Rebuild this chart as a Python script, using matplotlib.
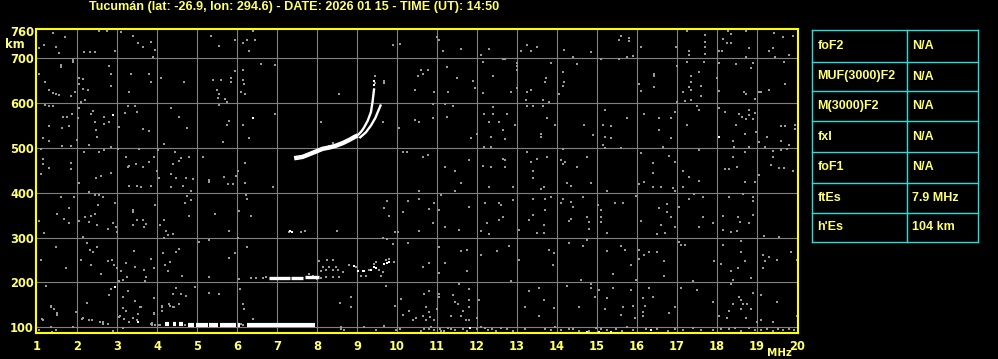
import matplotlib
matplotlib.use("Agg")
import matplotlib.pyplot as plt

# ---------------- data ----------------
title = "Tucumán (lat: -26.9, lon: 294.6) - DATE: 2026 01 15 - TIME (UT): 14:50"
freq_ticks = list(range(1, 21))
height_ticks = [100, 200, 300, 400, 500, 600, 700, 760]
grid_freqs = list(range(2, 20))
grid_heights = [100, 200, 300, 400, 500, 600, 700]

param_names = ["foF2", "MUF(3000)F2", "M(3000)F2", "fxI", "foF1", "ftEs", "h'Es"]
param_values = ["N/A", "N/A", "N/A", "N/A", "N/A", "7.9 MHz", "104 km"]

# F-layer trace (common lower part, ordinary and extraordinary branches)
f_common_freq = [7.43, 7.64, 7.81, 7.975, 8.14, 8.31, 8.475, 8.65, 8.81, 8.93, 9.02]
f_common_h = [477, 480, 486, 492, 498, 501, 505, 511, 518, 524, 528]
f_o_freq = [9.02, 9.12, 9.18, 9.27, 9.35, 9.39, 9.41, 9.43]
f_o_h = [528, 538, 546, 561, 580, 603, 618, 633]
f_x_freq = [9.06, 9.225, 9.35, 9.46, 9.52, 9.6]
f_x_h = [522, 535, 550, 567, 580, 597]

# E-layer trace segments (start freq, end freq, height)
e_seg_start = [6.81, 7.36, 7.70]
e_seg_end = [7.33, 7.66, 8.05]
e_seg_h = [210, 210, 211]

# Sporadic E trace segments
es_seg_start = [4.20, 4.40, 4.55, 4.77, 4.98, 5.31, 5.575, 6.02, 6.24]
es_seg_end = [4.30, 4.47, 4.65, 4.93, 5.27, 5.52, 5.975, 6.075, 7.96]
es_seg_h = [108, 108, 107, 104, 104, 104, 104, 104, 104]

# isolated white echoes
white_points = [
    (2.89, 573), (6.39, 567), (18.04, 525), (2.95, 189), (7.33, 314), (7.38, 313),
    (8.93, 236), (9.02, 225), (9.18, 225), (9.35, 227), (9.43, 235), (9.68, 241),
    (9.81, 245), (9.475, 232), (9.75, 243), (9.16, 226), (3.53, 112),
    (11.825, 99), (14.74, 89), (15.06, 89), (15.35, 89), (16.35, 94),
    (9.43, 640), (9.42, 650),
]

# grey noise speckles (frequency MHz, virtual height km)
noise_points = [
    # upper left
    (1.39, 757), (1.70, 747), (1.04, 722), (1.18, 730), (1.475, 726), (1.54, 711),
    (1.89, 696), (1.89, 691), (1.60, 680), (1.60, 684), (2.18, 713), (2.33, 713), (2.45, 713),
    (2.54, 762), (2.75, 762), (2.95, 717), (3.10, 758), (3.39, 749), (3.64, 726),
    (3.53, 735), (3.85, 737), (3.95, 719), (3.91, 704), (2.81, 683), (2.85, 666),
    (3.35, 666), (3.81, 666), (3.85, 648), (4.10, 655), (4.68, 648), (5.35, 749),
    (5.54, 728), (5.96, 740), (6.14, 735), (6.24, 740), (6.45, 740), (6.29, 717),
    (6.41, 762), (6.60, 687), (6.95, 685), (5.95, 672), (6.14, 674), (5.39, 651),
    (5.60, 651), (5.85, 655), (5.85, 648), (6.14, 651), (6.18, 642), (5.49, 629),
    (5.54, 621), (5.52, 612), (5.70, 609), (5.74, 603), (5.54, 595), (6.10, 625),
    (6.21, 620), (1.06, 666), (1.21, 648), (1.31, 629), (1.39, 623), (1.475, 621),
    (1.56, 618), (1.85, 615), (1.96, 625), (2.04, 655), (2.14, 653), (2.04, 642),
    (2.14, 632), (2.27, 629), (2.21, 606), (2.10, 600), (2.85, 638), (3.29, 625),
    (8.54, 621), (9.45, 660), (9.68, 650), (9.68, 644), (9.45, 644), (9.89, 730),
    (10.08, 732), (10.46, 629), (10.04, 544), (9.64, 558), (8.10, 558), (10.45, 563),
    (10.14, 490), (10.25, 492), (1.21, 595), (1.31, 593), (1.39, 593), (1.64, 570),
    (1.74, 570), (1.875, 575), (2.02, 567), (2.06, 588), (2.10, 603), (2.39, 582),
    (2.35, 576), (2.68, 570), (2.81, 558), (2.46, 558), (2.475, 539), (2.50, 525),
    (2.68, 554), (3.21, 578), (3.27, 593), (3.45, 593), (3.49, 580), (3.06, 546),
    (3.64, 543), (3.79, 537), (4.35, 589), (4.54, 570), (4.74, 544), (5.79, 561),
    (5.74, 552), (6.14, 552), (6.95, 575), (6.29, 522), (5.64, 513), (1.31, 548),
    (1.81, 548), (1.625, 545), (1.14, 522), (1.31, 516), (1.10, 498), (1.625, 505),
    (1.85, 505), (2.0, 518), (2.29, 507), (2.18, 490), (2.54, 490), (2.68, 495),
    (2.85, 501), (3.02, 498), (3.56, 498), (3.93, 480), (4.03, 495), (4.18, 509),
    (4.46, 490), (4.60, 477), (4.54, 471), (4.79, 480), (5.14, 479), (6.20, 466),
    (1.14, 475), (1.16, 464), (1.31, 455), (1.85, 466), (1.85, 453), (1.10, 442),
    (2.475, 434), (2.60, 438), (2.85, 445), (3.225, 479), (3.31, 460), (3.27, 457),
    (3.475, 464), (3.64, 457), (3.81, 468), (3.99, 449), (4.06, 434), (4.39, 464),
    (4.35, 442), (4.475, 434), (4.725, 434), (4.89, 430), (5.31, 428), (5.68, 436),
    (6.02, 449), (5.975, 438), (8.3, 505), (8.4, 510), (8.6, 512),
    # upper right
    (10.99, 747), (11.04, 740), (11.14, 717), (11.60, 721), (12.10, 707), (12.29, 721),
    (12.66, 698), (12.71, 698), (12.99, 689), (12.99, 675), (12.99, 682), (13.24, 730),
    (13.35, 717), (13.49, 726), (13.10, 717), (12.14, 692), (14.18, 719), (14.39, 704),
    (14.85, 713), (15.56, 741), (15.79, 745), (15.79, 738), (15.60, 749), (15.89, 705),
    (15.74, 704), (15.54, 698), (15.10, 698), (16.10, 726), (16.975, 726), (17.24, 762),
    (17.29, 717), (17.29, 707), (17.71, 752), (17.71, 737), (17.71, 726), (17.71, 710),
    (17.68, 692), (18.06, 717), (18.27, 760), (18.35, 755), (18.35, 734), (18.16, 743),
    (18.24, 735), (18.125, 717), (18.725, 762), (18.81, 722), (18.725, 704),
    (18.89, 689), (19.31, 717), (19.39, 722), (19.43, 756), (19.46, 702), (19.64, 747),
    (19.79, 707), (19.89, 749), (19.68, 692), (18.85, 678), (18.475, 687),
    (18.04, 689), (10.60, 674), (10.64, 665), (10.77, 674), (10.52, 660),
    (11.24, 680), (11.50, 656), (11.89, 650), (11.95, 633), (11.27, 625),
    (10.93, 625), (12.41, 660), (12.85, 625), (12.99, 633), (12.14, 623),
    (13.85, 689), (13.725, 657), (13.70, 648), (13.35, 629), (13.24, 625),
    (13.225, 606), (13.64, 606), (13.79, 603), (14.14, 670), (14.18, 648),
    (14.14, 638), (14.04, 621), (14.49, 687), (16.43, 666), (16.43, 660), (16.43, 636),
    (16.04, 642), (16.10, 627), (16.99, 683), (17.14, 625), (17.24, 692),
    (17.35, 660), (17.35, 648), (17.56, 670), (17.29, 635), (17.35, 629),
    (17.60, 638), (17.60, 615), (17.21, 605), (17.35, 606), (16.99, 603),
    (18.04, 627), (17.99, 657), (18.725, 621), (18.68, 625), (18.96, 610),
    (19.04, 625), (19.10, 625), (19.29, 629), (19.71, 642), (10.89, 597),
    (11.21, 597), (11.39, 593), (10.54, 558), (10.89, 567), (11.24, 570),
    (12.18, 575), (12.41, 591), (12.54, 558), (12.29, 558), (12.66, 540),
    (12.74, 575), (12.95, 552), (12.39, 575), (11.85, 522), (11.99, 530),
    (12.35, 525), (12.70, 520), (12.18, 503), (12.35, 503), (13.24, 593),
    (13.39, 593), (13.64, 593), (13.74, 567), (13.60, 530), (13.60, 525), (13.96, 552),
    (14.68, 552), (14.89, 528), (15.20, 584), (15.14, 552), (15.35, 548),
    (15.20, 525), (15.35, 522), (15.14, 507), (15.20, 500), (15.60, 500),
    (15.74, 567), (16.18, 575), (16.54, 567), (16.85, 567), (16.96, 580),
    (16.54, 540), (16.85, 522), (17.24, 552), (17.49, 593), (17.54, 584),
    (18.06, 590), (18.21, 580), (18.54, 575), (18.625, 570), (18.725, 565),
    (18.79, 584), (18.81, 573), (18.89, 565), (18.96, 578), (18.475, 552),
    (18.71, 530), (18.39, 516), (18.43, 503), (18.975, 535), (19.04, 513),
    (19.24, 525), (19.21, 503), (19.60, 550), (19.71, 548), (19.96, 552),
    (19.94, 543), (19.60, 516), (19.79, 507), (10.64, 480), (10.77, 485),
    (11.21, 458), (11.46, 449), (11.79, 472), (12.14, 460), (12.35, 458),
    (12.66, 475), (12.71, 472), (12.71, 458), (13.24, 490), (13.49, 475),
    (13.35, 468), (13.39, 449), (13.39, 433), (13.74, 480), (14.14, 498),
    (14.10, 472), (14.16, 464), (14.21, 468), (14.49, 458), (14.74, 480),
    (16.10, 488), (16.39, 466), (16.39, 445), (16.64, 501), (16.79, 483),
    (16.96, 468), (17.14, 449), (17.29, 436), (17.54, 495), (18.39, 479),
    (18.49, 457), (18.21, 454), (18.29, 454), (18.71, 490), (18.81, 501),
    (19.06, 440), (19.39, 494), (19.41, 480), (19.60, 495), (19.74, 498),
    (19.35, 463), (19.54, 455), (19.68, 455), (19.89, 449),
    # lower left
    (2.04, 421), (2.31, 401), (3.29, 416), (3.49, 414), (3.60, 413), (3.85, 416),
    (4.35, 413), (4.64, 416), (4.85, 404), (4.74, 392), (4.85, 383), (4.71, 377),
    (5.29, 424), (5.77, 419), (5.89, 419), (6.20, 421), (6.225, 396), (6.24, 387),
    (6.89, 413), (1.60, 390), (1.93, 390), (2.46, 394), (2.56, 396), (2.64, 390),
    (2.53, 372), (2.95, 377), (3.95, 372), (1.79, 366), (1.49, 352), (1.68, 342),
    (1.81, 332), (1.04, 337), (2.04, 337), (2.21, 346), (2.35, 349), (2.46, 352),
    (2.31, 334), (2.50, 327), (2.77, 320), (2.91, 332), (2.975, 323), (3.0, 312),
    (3.39, 361), (3.39, 356), (3.49, 340), (3.64, 340), (3.725, 331), (3.68, 323), (3.39, 327),
    (4.075, 329), (4.18, 340), (4.225, 314), (4.27, 306), (4.39, 308), (4.18, 300),
    (4.79, 349), (5.45, 352), (5.79, 314), (6.04, 359), (6.35, 349), (7.60, 312),
    (7.71, 314), (7.30, 312), (8.49, 314), (9.74, 381), (9.67, 366), (9.79, 349),
    (10.14, 358), (10.02, 312), (9.96, 312), (9.64, 300), (9.74, 297), (9.91, 285),
    (10.27, 288), (10.28, 381), (1.18, 310), (1.475, 279), (1.10, 250), (1.725, 233),
    (2.14, 302), (2.24, 288), (2.325, 273), (2.41, 268), (2.50, 279), (2.10, 250),
    (2.35, 238), (2.60, 218), (2.77, 247), (2.875, 250), (2.93, 238), (3.0, 233),
    (3.10, 225), (3.16, 206), (3.24, 212), (3.04, 204), (3.225, 243), (3.43, 270),
    (3.46, 234), (3.68, 228), (3.725, 212), (3.71, 203), (3.93, 233), (3.85, 253),
    (4.14, 265), (4.21, 238), (4.27, 225), (4.325, 245), (4.475, 268), (4.54, 275),
    (4.625, 215), (5.04, 290), (5.29, 294), (5.29, 212), (5.81, 255), (5.95, 265),
    (6.04, 208), (6.25, 279), (6.03, 300), (1.225, 191), (2.85, 186), (2.81, 171),
    (3.16, 167), (3.27, 180), (3.14, 143), (3.225, 137), (3.46, 158), (3.60, 146),
    (3.52, 130), (3.29, 111), (3.06, 122), (3.18, 119), (2.77, 108), (2.64, 108),
    (2.31, 117), (2.14, 121), (1.975, 134), (1.89, 100), (1.35, 146), (1.43, 141),
    (1.49, 128), (1.125, 119), (1.06, 93), (1.35, 100), (1.475, 93), (3.93, 166),
    (3.93, 130), (3.85, 108), (4.125, 146), (4.125, 137), (4.31, 152), (4.39, 175),
    (4.475, 188), (4.60, 175), (4.43, 146), (4.54, 151), (4.725, 169), (4.96, 189),
    (5.31, 176), (5.56, 173), (6.14, 151), (6.18, 141), (6.075, 186), (6.39, 119),
    (8.575, 154), (8.85, 167), (8.85, 146), (9.725, 193), (9.96, 148), (10.10, 163),
    (10.14, 128), (10.29, 137), (10.39, 117), (9.68, 102), (9.975, 93), (8.6, 100),
    (8.6, 95), (8.68, 94), (9.18, 100), (9.475, 93),
    (1.37, 90), (1.14, 116), (1.49, 132), (1.34, 148), (1.89, 101), (2.24, 154),
    (2.12, 118), (2.37, 117), (2.575, 112), (2.66, 112), (2.89, 92), (3.16, 98),
    (3.075, 124), (3.41, 121), (3.575, 146), (3.49, 115), (3.87, 110), (3.87, 106),
    (3.925, 132), (4.075, 105), (4.12, 147), (4.325, 148), (4.41, 146),
    # E-layer surroundings
    (6.35, 210), (6.475, 210), (6.64, 210), (6.725, 213), (8.06, 247), (8.24, 250),
    (8.39, 249), (8.14, 234), (8.31, 235), (8.475, 234), (8.10, 225), (8.225, 227),
    (8.39, 227), (8.52, 228), (8.64, 223), (8.225, 212), (8.39, 212), (8.56, 212),
    (8.81, 238), (8.975, 234), (9.10, 215), (9.225, 215), (9.31, 228), (9.475, 245),
    (9.60, 215), (9.64, 223), (9.81, 253), (9.93, 245), (9.725, 249), (9.56, 227),
    (9.43, 242), (7.81, 219), (7.89, 215), (8.0, 208), (8.1, 210),
    # Es-layer surroundings
    (4.60, 104), (4.70, 104), (3.95, 104), (4.05, 106), (6.10, 108), (6.15, 104),
    # lower right
    (10.54, 404), (10.54, 387), (11.10, 394), (11.60, 421), (11.46, 404),
    (12.29, 413), (12.89, 413), (13.68, 413), (13.60, 409), (14.24, 421),
    (14.35, 416), (14.85, 421), (15.24, 404), (16.04, 420), (16.18, 424),
    (16.39, 413), (16.60, 413), (16.91, 411), (16.96, 405), (17.14, 413),
    (17.56, 426), (18.71, 424), (18.96, 424), (10.81, 364), (10.93, 377),
    (11.04, 362), (11.79, 368), (10.89, 332), (10.56, 314), (11.21, 323),
    (11.54, 317), (12.20, 377), (12.54, 377), (12.60, 372), (12.89, 384),
    (12.64, 346), (12.54, 340), (12.24, 332), (12.10, 314), (12.29, 307),
    (13.06, 317), (13.41, 387), (13.71, 387), (13.85, 390), (13.71, 362),
    (13.39, 351), (13.31, 340), (13.68, 327), (13.49, 310), (13.68, 310),
    (14.14, 387), (14.10, 377), (14.35, 379), (14.39, 368), (14.64, 390),
    (14.29, 338), (14.35, 342), (14.74, 346), (14.79, 334), (15.10, 362),
    (15.10, 346), (15.10, 334), (14.81, 320), (15.24, 310), (15.45, 377),
    (15.64, 377), (15.02, 372), (15.975, 392), (16.10, 337), (16.54, 366),
    (16.74, 374), (16.74, 357), (16.85, 346), (16.60, 327), (16.71, 310),
    (16.49, 307), (16.96, 323), (17.06, 368), (17.29, 386), (17.43, 397),
    (17.64, 390), (17.64, 346), (17.54, 323), (17.89, 332), (18.29, 390),
    (18.64, 397), (18.89, 390), (18.89, 381), (18.90, 351), (18.15, 349),
    (18.52, 345), (18.58, 334), (18.79, 332), (18.14, 316), (18.35, 312),
    (18.49, 314), (19.18, 303), (19.54, 301), (11.04, 279), (11.60, 270),
    (11.74, 273), (12.10, 260), (12.49, 270), (12.79, 282), (12.85, 203),
    (10.64, 235), (10.79, 243), (11.21, 243), (11.04, 221), (11.74, 225),
    (13.04, 250), (13.79, 273), (13.93, 265), (13.89, 238), (14.29, 288),
    (14.64, 282), (14.74, 295), (15.24, 271), (15.60, 282), (15.71, 273),
    (15.85, 238), (15.39, 218), (15.975, 205), (14.6, 205), (16.04, 273),
    (16.04, 253), (16.18, 260), (16.31, 268), (16.49, 268), (16.68, 247),
    (16.68, 215), (17.06, 290), (17.10, 283), (17.21, 283), (17.39, 203),
    (17.93, 247), (18.10, 241), (18.14, 283), (18.60, 292), (18.60, 268),
    (18.71, 247), (18.52, 232), (18.35, 225), (18.39, 206), (18.85, 210),
    (19.14, 262), (19.29, 256), (19.21, 247), (19.49, 250), (19.14, 232),
    (19.85, 268), (19.99, 250), (18.35, 197),
    (10.79, 180), (10.68, 175), (10.725, 146), (10.79, 134), (10.825, 122),
    (11.04, 175), (11.04, 167), (11.41, 171), (11.46, 156), (11.52, 152),
    (11.81, 186), (11.81, 161), (11.79, 146), (12.04, 161), (11.64, 136),
    (11.60, 126), (11.725, 115), (11.81, 116), (11.99, 121), (11.35, 126),
    (10.475, 121), (10.64, 124), (10.725, 115), (10.93, 116), (10.99, 141),
    (11.54, 197), (13.31, 180), (13.54, 188), (13.21, 146), (13.56, 124),
    (13.68, 161), (13.93, 143), (14.24, 193), (14.85, 197), (14.85, 188),
    (15.04, 183), (14.95, 167), (14.54, 146), (15.21, 141), (15.24, 166),
    (15.39, 188), (15.64, 146), (15.60, 128), (15.85, 183), (15.89, 148),
    (15.96, 121), (16.14, 166), (16.21, 148), (16.39, 167), (16.29, 188),
    (16.14, 134), (16.16, 124), (16.79, 131), (16.96, 146), (17.10, 188),
    (17.49, 183), (17.89, 156), (18.06, 124), (18.24, 121), (18.31, 137),
    (18.39, 152), (18.56, 167), (18.60, 161), (18.64, 151), (18.74, 151),
    (18.60, 141), (18.85, 141), (18.91, 176), (19.10, 171), (18.99, 111),
    (19.10, 115), (19.39, 111), (19.49, 156), (19.99, 124), (18.725, 121),
    # bottom clutter
    (10.60, 92), (10.68, 97), (10.85, 101), (10.93, 93), (11.075, 96), (11.18, 92),
    (11.27, 99), (11.46, 94), (11.64, 97), (11.74, 92), (11.99, 96), (12.10, 101),
    (12.27, 93), (12.375, 97), (12.475, 91), (12.60, 99), (12.74, 95), (12.89, 92),
    (13.21, 97), (13.85, 93), (13.96, 100), (14.29, 95), (14.56, 92), (14.975, 98),
    (15.24, 93), (15.475, 97), (15.625, 92), (15.74, 100), (16.225, 95), (16.77, 92),
    (16.96, 97), (17.14, 94), (17.39, 99), (17.89, 93), (18.29, 97), (18.60, 92),
    (18.81, 98), (19.10, 94), (19.39, 91), (19.52, 97), (19.64, 93), (19.79, 96),
    (10.075, 95), (10.80, 97), (11.10, 92), (11.35, 96), (12.20, 98), (13.70, 95),
    (14.10, 93), (14.40, 97), (14.80, 92), (15.10, 95), (15.90, 93), (16.50, 96),
    (17.60, 94), (18.10, 95), (18.45, 98), (18.95, 93), (19.25, 96), (19.92, 94),
]

noise_freq = [p[0] for p in noise_points]
noise_height = [p[1] for p in noise_points]
white_freq = [p[0] for p in white_points]
white_height = [p[1] for p in white_points]

# ---------------- figure ----------------
W, H = 998, 359
fig = plt.figure(figsize=(W / 100, H / 100), dpi=100, facecolor="black")
ax = fig.add_axes([36 / W, 1 - 333.3 / H, (797.7 - 36) / W, (333.3 - 29.3) / H])
ax.set_facecolor("black")
ax.set_xlim(0.975, 20.02)
ax.set_ylim(86.4, 764.7)

txt_col = "#FFFF70"
grid_col = "#808080"
noise_col = "#9a9a9a"

for f in grid_freqs:
    ax.axvline(f, color=grid_col, lw=0.8, zorder=1)
for h in grid_heights:
    ax.axhline(h, color=grid_col, lw=0.8, zorder=1)

ax.plot(noise_freq, noise_height, "s", color=noise_col, ms=1.9, mew=0, zorder=2)
ax.plot(white_freq, white_height, "s", color="white", ms=2.0, mew=0, zorder=3)

ax.plot(f_common_freq, f_common_h, color="white", lw=3.2, solid_capstyle="butt", zorder=4)
ax.plot(f_o_freq, f_o_h, color="white", lw=1.7, solid_capstyle="butt", zorder=4)
ax.plot(f_x_freq, f_x_h, color="white", lw=1.7, solid_capstyle="butt", zorder=4)

for s, e, h in zip(e_seg_start, e_seg_end, e_seg_h):
    ax.plot([s, e], [h, h], color="white", lw=2.4, solid_capstyle="butt", zorder=4)
for s, e, h in zip(es_seg_start, es_seg_end, es_seg_h):
    ax.plot([s, e], [h, h], color="white", lw=3.0, solid_capstyle="butt", zorder=4)

for sp in ax.spines.values():
    sp.set_color("#FFFF00")
    sp.set_linewidth(1.5)

tick_font = dict(family="DejaVu Sans", weight="bold", size=8.3)
ax.set_xticks(freq_ticks)
ax.set_xticklabels([str(v) for v in freq_ticks], color=txt_col, **tick_font)
ax.set_yticks(height_ticks)
ax.set_yticklabels([str(v) for v in height_ticks], color=txt_col, **tick_font)
ax.tick_params(axis="x", length=0, pad=4.5)
ax.tick_params(axis="y", length=0, pad=1.5)

fig.text(767.5 / W, 1 - 353 / H, "MHz", color=txt_col, ha="left", va="center",
         family="DejaVu Sans", weight="bold", size=7.4)
fig.text(5 / W, 1 - 45 / H, "km", color=txt_col, ha="left", va="center", **tick_font)

fig.text(294.5 / W, 1 - 7 / H, title, color=txt_col, ha="center", va="center",
         family="Liberation Sans", weight="bold", size=9.1)

# parameter table
tab = fig.add_axes([0, 0, 1, 1], facecolor="none")
tab.set_xlim(0, W)
tab.set_ylim(H, 0)
tab.axis("off")
row_edges = [30.3, 61.7, 91.3, 121.3, 151.7, 182.7, 212.7, 242.3]
tab_left, tab_mid, tab_right = 812.3, 907.3, 977.7
cyan = "#22E0E0"
for y in row_edges:
    tab.plot([tab_left, tab_right], [y, y], color=cyan, lw=1.0)
for x in (tab_left, tab_mid, tab_right):
    tab.plot([x, x], [row_edges[0], row_edges[-1]], color=cyan, lw=1.0)
for i, (name, val) in enumerate(zip(param_names, param_values)):
    yc = (row_edges[i] + row_edges[i + 1]) / 2
    tab.text(817.5, yc, name, color=txt_col, ha="left", va="center",
             family="Liberation Sans", weight="bold", size=9.0)
    tab.text(912.5, yc, val, color=txt_col, ha="left", va="center",
             family="Liberation Sans", weight="bold", size=9.0)

fig.savefig("out.png", dpi=100, facecolor="black")
